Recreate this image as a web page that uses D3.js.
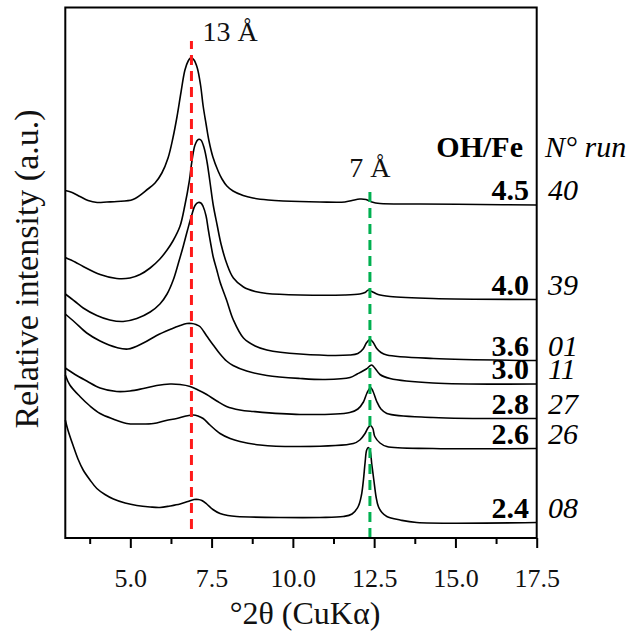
<!DOCTYPE html>
<html>
<head>
<meta charset="utf-8">
<script src="https://cdn.jsdelivr.net/npm/d3@7"></script>
<style>
  html, body { margin: 0; padding: 0; background: #fff; }
  svg { display: block; font-family: "Liberation Serif", "Times New Roman", serif; }
</style>
</head>
<body>
<svg id="chart" width="629" height="639"></svg>
<script>
// XRD patterns, [°2θ, relative intensity incl. stacking offset]
const run40 = [[3.00,695],[3.21,691],[3.45,683],[3.70,675],[3.98,671],[4.28,672],[4.59,673],[5.08,677],[5.54,698],[5.76,710],[5.97,730],[6.16,760],[6.31,800],[6.44,844],[6.56,892],[6.68,936],[6.78,954],[6.87,961],[6.96,956],[7.06,940],[7.16,906],[7.24,864],[7.33,828],[7.42,794],[7.54,762],[7.70,734],[7.82,718],[7.97,704],[8.16,694],[8.47,685],[8.77,680],[9.24,676],[9.70,674],[10.83,672],[11.60,672],[11.82,675],[12.06,678],[12.25,677],[12.43,672],[12.68,669],[13.91,668],[15.76,667],[17.50,666]];
const run39 = [[3.00,561],[3.30,552],[3.55,543],[4.07,527],[4.58,519],[4.99,520],[5.30,527],[5.61,540],[5.91,558],[6.13,576],[6.31,594],[6.53,624],[6.68,666],[6.81,712],[6.90,756],[6.99,786],[7.09,797],[7.17,796],[7.27,780],[7.36,752],[7.45,712],[7.55,666],[7.67,626],[7.79,588],[7.96,550],[8.17,520],[8.48,502],[8.84,493],[9.20,489],[10.22,486],[11.60,486],[12.06,488],[12.22,491],[12.32,496],[12.43,493],[12.62,487],[12.99,483],[14.31,479],[17.50,477]];
const run01 = [[3.00,488],[3.30,473],[3.55,460],[3.97,445],[4.37,436],[4.78,433],[5.20,439],[5.61,452],[5.91,468],[6.13,488],[6.32,516],[6.48,550],[6.63,584],[6.76,616],[6.89,646],[6.99,665],[7.09,671],[7.17,670],[7.24,663],[7.33,644],[7.40,616],[7.48,586],[7.55,562],[7.66,536],[7.76,512],[7.96,476],[8.17,436],[8.48,400],[8.84,384],[9.20,376],[10.22,368],[11.75,366],[12.00,369],[12.16,378],[12.26,390],[12.37,397],[12.46,392],[12.58,379],[12.71,371],[12.89,366],[14.32,359],[17.50,355]];
const run11 = [[3.00,448],[3.30,431],[3.66,410],[4.07,394],[4.58,381],[4.93,378],[5.40,390],[5.81,405],[6.22,417],[6.53,425],[6.74,429],[6.89,429],[7.02,427],[7.14,423],[7.35,404],[7.55,386],[7.76,368],[7.96,354],[8.16,345],[8.58,334],[9.20,325],[10.22,319],[10.99,317],[11.76,321],[11.98,328],[12.26,338],[12.42,346],[12.52,340],[12.68,327],[12.99,319],[14.31,310],[17.50,308]];
const run27 = [[3.00,340],[3.30,327],[3.66,314],[4.07,300],[4.58,293],[4.99,294],[5.40,299],[5.81,305],[6.22,308],[6.53,307],[6.84,303],[7.08,296],[7.35,287],[7.66,274],[7.96,263],[8.37,256],[8.78,253],[10.22,247],[11.75,251],[12.00,258],[12.17,272],[12.28,290],[12.39,301],[12.46,294],[12.58,273],[12.71,258],[12.89,249],[14.31,241],[17.50,239]];
const run26 = [[3.00,326],[3.14,306],[3.45,283],[3.76,264],[4.07,249],[4.47,238],[4.89,229],[5.30,228],[5.71,229],[6.10,235],[6.43,239],[6.71,244],[6.94,246],[7.08,244],[7.24,239],[7.45,226],[7.76,209],[8.07,199],[8.37,193],[8.99,186],[10.22,183],[11.86,189],[12.06,196],[12.22,209],[12.31,220],[12.39,225],[12.46,219],[12.52,203],[12.68,190],[12.89,183],[14.31,179],[17.50,179]];
const run08 = [[3.00,236],[3.08,216],[3.25,183],[3.39,158],[3.55,136],[3.76,116],[3.97,99],[4.22,87],[4.48,78],[4.84,70],[5.20,65],[5.61,62],[5.91,61],[6.22,64],[6.53,68],[6.77,73],[6.96,77],[7.09,77],[7.20,75],[7.35,68],[7.54,57],[7.76,49],[8.00,45],[8.27,43],[9.60,41],[10.83,41],[11.55,43],[11.82,48],[12.01,63],[12.11,86],[12.17,116],[12.22,150],[12.27,176],[12.32,181],[12.37,176],[12.43,146],[12.49,116],[12.56,82],[12.63,63],[12.74,51],[12.89,43],[13.30,36],[13.81,31],[17.50,31]];

const patterns = [run40, run39, run01, run11, run27, run26, run08];
const ohFe = ["4.5", "4.0", "3.6", "3.0", "2.8", "2.6", "2.4"];
const runNo = ["40", "39", "01", "11", "27", "26", "08"];

// basal reflections: position (°2θ) and extent of the marker line
const refLabels = ["13 Å", "7 Å"];
const refPos = [6.88, 12.37];
const refFrom = [18, 0];
const refTo = [994, 698];

const majorTicks = [5.0, 7.5, 10.0, 12.5, 15.0, 17.5];
const minorTicks = [3.75, 6.25, 8.75, 11.25, 13.75, 16.25];

const svg = d3.select("#chart");
const x = d3.scaleLinear().domain([3, 17.5]).range([65.3, 536.7]);
const y = d3.scaleLinear().domain([0, 1061]).range([538, 7.5]);

const line = d3.line()
  .x(d => x(d[0]))
  .y(d => y(d[1]))
  .curve(d3.curveCatmullRom.alpha(0.5));

// patterns
svg.append("g")
  .selectAll("path")
  .data(patterns)
  .join("path")
  .attr("d", line)
  .attr("fill", "none")
  .attr("stroke", "#000")
  .attr("stroke-width", 1.6)
  .attr("stroke-linejoin", "round");

// dashed reference lines
const refColors = ["#ff1a1a", "#00b050"];
const refG = svg.append("g");
refPos.forEach((p, i) => {
  refG.append("line")
    .attr("x1", x(p)).attr("x2", x(p))
    .attr("y1", y(refFrom[i])).attr("y2", y(refTo[i]))
    .attr("stroke", refColors[i])
    .attr("stroke-width", 3)
    .attr("stroke-dasharray", "10,6");
});
refG.append("text")
  .attr("x", x(refPos[0]) + 11).attr("y", y(refTo[0]))
  .attr("font-size", 28).attr("fill", "#111")
  .text(refLabels[0]);
refG.append("text")
  .attr("x", x(refPos[1])).attr("y", y(refTo[1]) - 12)
  .attr("text-anchor", "middle")
  .attr("font-size", 28).attr("fill", "#111")
  .text(refLabels[1]);

// frame
svg.append("rect")
  .attr("x", x(3)).attr("y", y(1061))
  .attr("width", x(17.5) - x(3)).attr("height", y(0) - y(1061))
  .attr("fill", "none").attr("stroke", "#000").attr("stroke-width", 2);

// bottom axis
const axisMajor = d3.axisBottom(x)
  .tickValues(majorTicks)
  .tickFormat(d3.format(".1f"))
  .tickSize(10).tickSizeOuter(0).tickPadding(21);
const gx = svg.append("g").attr("transform", `translate(0,${y(0)})`).call(axisMajor);
gx.select(".domain").remove();
gx.selectAll(".tick line").attr("stroke", "#000").attr("stroke-width", 2);
gx.selectAll(".tick text")
  .attr("font-family", "Liberation Serif, serif")
  .attr("font-size", 26).attr("fill", "#111");

const axisMinor = d3.axisBottom(x).tickValues(minorTicks).tickFormat("").tickSize(6).tickSizeOuter(0);
const gm = svg.append("g").attr("transform", `translate(0,${y(0)})`).call(axisMinor);
gm.select(".domain").remove();
gm.selectAll(".tick line").attr("stroke", "#000").attr("stroke-width", 2);

// axis titles
svg.append("text")
  .attr("x", 305).attr("y", 624)
  .attr("text-anchor", "middle")
  .attr("font-size", 32).attr("fill", "#111")
  .text("°2θ (CuKα)");
svg.append("text")
  .attr("transform", "translate(38,269) rotate(-90)")
  .attr("text-anchor", "middle")
  .attr("font-size", 34).attr("fill", "#111")
  .text("Relative intensity (a.u.)");

// series labels at the right end of each pattern
svg.append("text")
  .attr("x", 523).attr("y", 157)
  .attr("text-anchor", "end")
  .attr("font-size", 30).attr("font-weight", "bold")
  .text("OH/Fe");
svg.append("text")
  .attr("x", 545).attr("y", 157)
  .attr("font-size", 30).attr("font-style", "italic")
  .text("N° run");

patterns.forEach((p, i) => {
  const ly = y(p[p.length - 1][1]) - 5;
  svg.append("text")
    .attr("x", 529).attr("y", ly)
    .attr("text-anchor", "end")
    .attr("font-size", 30).attr("font-weight", "bold")
    .text(ohFe[i]);
  svg.append("text")
    .attr("x", 548).attr("y", ly)
    .attr("font-size", 30).attr("font-style", "italic")
    .text(runNo[i]);
});
</script>
</body>
</html>
